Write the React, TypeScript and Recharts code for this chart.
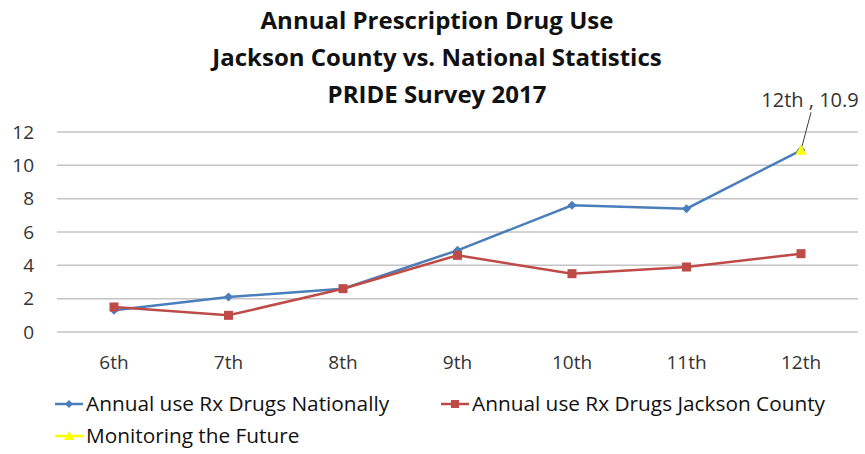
import React from 'react';
import { LineChart, Line, XAxis, YAxis, CartesianGrid, Legend } from 'recharts';

// Grade levels surveyed
const grades = ['6th', '7th', '8th', '9th', '10th', '11th', '12th'];
// Annual Rx drug use (%) nationally
const national = [1.3, 2.1, 2.6, 4.9, 7.6, 7.4, 10.9];
// Annual Rx drug use (%) in Jackson County
const jackson = [1.5, 1.0, 2.6, 4.6, 3.5, 3.9, 4.7];
// Monitoring the Future reference point (12th grade only)
const monitoring: (number | null)[] = [null, null, null, null, null, null, 10.9];
// Y axis ticks
const yTicks = [0, 2, 4, 6, 8, 10, 12];

const titleLines = [
  'Annual Prescription Drug Use',
  'Jackson County vs. National Statistics',
  'PRIDE Survey 2017',
];

const BLUE = '#4A7EBB';
const RED = '#BE4B48';
const YELLOW = '#FFFF00';
const FONT = '"Open Sans", Lato, sans-serif';

const data = grades.map((g, i) => ({
  grade: g,
  national: national[i],
  jackson: jackson[i],
  monitoring: monitoring[i],
}));

const Diamond = ({ cx, cy, color, r = 4.5 }: any) =>
  cx == null || cy == null ? null : (
    <path d={`M${cx},${cy - r}L${cx + r},${cy}L${cx},${cy + r}L${cx - r},${cy}Z`} fill={color} />
  );

const Square = ({ cx, cy, color, s = 9 }: any) =>
  cx == null || cy == null ? null : (
    <rect x={cx - s / 2} y={cy - s / 2} width={s} height={s} fill={color} />
  );

const Triangle = ({ cx, cy, color, r = 5.5 }: any) =>
  cx == null || cy == null ? null : (
    <path d={`M${cx},${cy - r}L${cx + r},${cy + r * 0.8}L${cx - r},${cy + r * 0.8}Z`} fill={color} />
  );

const dotFor = (shape: string, color: string) => (props: any) => {
  const { cx, cy, index, value } = props;
  if (value == null) return <g key={`d-${shape}-${index}`} />;
  if (shape === 'diamond') return <Diamond key={`d-${shape}-${index}`} cx={cx} cy={cy} color={color} />;
  if (shape === 'square') return <Square key={`d-${shape}-${index}`} cx={cx} cy={cy} color={color} />;
  return <Triangle key={`d-${shape}-${index}`} cx={cx} cy={cy} color={color} />;
};

const MonitoringLabel = (props: any) => {
  const { x, y, value, index } = props;
  if (value == null || x == null || y == null) return null;
  return (
    <g>
      <line x1={x + 1} y1={y - 4} x2={x + 10} y2={y - 38} stroke="#404040" strokeWidth={1} />
      <text x={x + 9} y={y - 43} textAnchor="middle" fontFamily={FONT} fontSize={20} fill="#333">
        {`${grades[index]} , ${value}`}
      </text>
    </g>
  );
};

const LegendIcon = ({ x, y, shape, color }: any) => (
  <g>
    <line x1={x} y1={y} x2={x + 28} y2={y} stroke={color} strokeWidth={2.5} />
    {shape === 'diamond' && <Diamond cx={x + 14} cy={y} color={color} r={4} />}
    {shape === 'square' && <Square cx={x + 14} cy={y} color={color} s={8} />}
    {shape === 'triangle' && <Triangle cx={x + 14} cy={y} color={color} r={5} />}
  </g>
);

const legendItems = [
  { name: 'Annual use Rx Drugs Nationally', color: BLUE, shape: 'diamond', left: 55, base: 23 },
  { name: 'Annual use Rx Drugs Jackson County', color: RED, shape: 'square', left: 441, base: 23 },
  { name: 'Monitoring the Future', color: YELLOW, shape: 'triangle', left: 55, base: 55 },
];

const LegendContent = () => (
  <svg width={865} height={64} style={{ display: 'block' }}>
    {legendItems.map((it) => (
      <g key={it.name}>
        <LegendIcon x={it.left} y={it.base - 7} shape={it.shape} color={it.color} />
        <text x={it.left + 31} y={it.base} fontFamily={FONT} fontSize={20.8} fill="#111">
          {it.name}
        </text>
      </g>
    ))}
  </svg>
);

export default function App() {
  return (
    <div style={{ position: 'absolute', left: 0, top: 0, background: '#fff' }}>
      <LineChart
        width={865}
        height={454}
        data={data}
        margin={{ top: 132, right: 7, left: 0, bottom: 28 }}
      >
        {titleLines.map((t, i) => (
          <text
            key={t}
            x={437}
            y={29 + i * 37}
            textAnchor="middle"
            fontFamily={FONT}
            fontWeight={700}
            fontSize={24}
            fill="#111"
          >
            {t}
          </text>
        ))}
        <CartesianGrid vertical={false} stroke="#C4C4C4" strokeWidth={1.5} />
        <XAxis
          dataKey="grade"
          axisLine={false}
          tickLine={false}
          height={30}
          tickMargin={18}
          padding={{ left: 57, right: 57 }}
          tick={{ fontFamily: FONT, fontSize: 19, fill: '#333' }}
        />
        <YAxis
          domain={[0, 12]}
          ticks={yTicks}
          width={57}
          axisLine={false}
          tickLine={false}
          tickMargin={17}
          tick={{ fontFamily: FONT, fontSize: 19, fill: '#333' }}
        />
        <Legend
          content={<LegendContent />}
          wrapperStyle={{ left: 0, top: 388, width: 865, height: 64 }}
        />
        <Line
          dataKey="national"
          name="Annual use Rx Drugs Nationally"
          stroke={BLUE}
          strokeWidth={2.5}
          dot={dotFor('diamond', BLUE)}
          isAnimationActive={false}
        />
        <Line
          dataKey="jackson"
          name="Annual use Rx Drugs Jackson County"
          stroke={RED}
          strokeWidth={2.5}
          dot={dotFor('square', RED)}
          isAnimationActive={false}
        />
        <Line
          dataKey="monitoring"
          name="Monitoring the Future"
          stroke={YELLOW}
          strokeWidth={2.5}
          dot={dotFor('triangle', YELLOW)}
          label={<MonitoringLabel />}
          isAnimationActive={false}
        />
      </LineChart>
    </div>
  );
}
